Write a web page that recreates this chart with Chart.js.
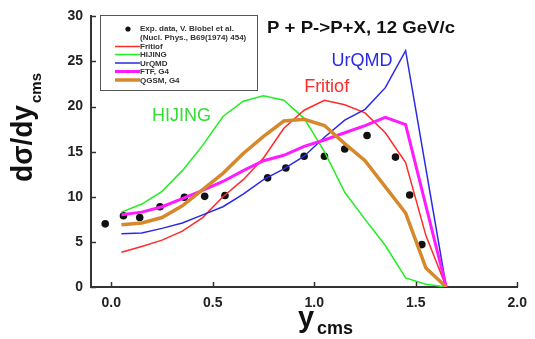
<!DOCTYPE html>
<html>
<head>
<meta charset="utf-8">
<script src="https://cdn.jsdelivr.net/npm/chart.js@4"></script>
<style>
html,body{margin:0;padding:0;background:#fff;}
#wrap{width:535px;height:339px;position:relative;}
</style>
</head>
<body>
<div id="wrap"><canvas id="c" width="535" height="339"></canvas></div>
<script>
// ---- data ----
const expX = [-0.03, 0.06, 0.14, 0.24, 0.36, 0.46, 0.56, 0.77, 0.86, 0.95, 1.05, 1.15, 1.26, 1.40, 1.47, 1.53];
const expY = [7.0, 7.9, 7.7, 8.9, 9.95, 10.05, 10.15, 12.1, 13.2, 14.5, 14.5, 15.3, 16.8, 14.4, 10.2, 4.7];

const modelX  = [0.05, 0.15, 0.25, 0.35, 0.45, 0.55, 0.65, 0.75, 0.85, 0.95, 1.05, 1.15, 1.25, 1.35, 1.45, 1.55, 1.65];
const fritiofY = [3.85, 4.5, 5.2, 6.2, 7.7, 10.0, 11.9, 14.3, 17.6, 19.6, 20.7, 20.2, 19.3, 17.1, 13.8, 5.7, 0];
const hijingY  = [8.3, 9.2, 10.6, 12.9, 15.7, 18.9, 20.6, 21.2, 20.7, 18.7, 15.0, 10.5, 7.5, 4.6, 1.0, 0.3, 0];
const urqmdY   = [5.9, 6.0, 6.5, 7.1, 8.0, 8.9, 10.3, 11.9, 13.1, 14.5, 16.6, 18.5, 19.7, 22.1, 26.2, null, 0];
const ftfY     = [8.0, 8.3, 8.9, 9.8, 10.7, 11.7, 12.9, 14.0, 14.6, 15.6, 16.3, 17.1, 17.9, 18.8, 18.0, null, 0];
const qgsmY    = [6.9, 7.1, 7.7, 9.0, 10.8, 12.6, 14.8, 16.7, 18.4, 18.6, 17.9, 15.9, 14.0, 11.1, 8.2, 2.1, 0];

const xTicks = [0.0, 0.5, 1.0, 1.5, 2.0];
const yTicks = [0, 5, 10, 15, 20, 25, 30];

const seriesNames = ["Fritiof", "HIJING", "UrQMD", "FTF, G4", "QGSM, G4"];
const expName = ["Exp. data, V. Blobel et al.", "(Nucl. Phys., B69(1974) 454)"];
const titleText = "P + P->P+X, 12 GeV/c";
const notes = [
  {text: "HIJING", x: 0.20, y: 18.4, color: "#33dd33"},
  {text: "Fritiof", x: 0.95, y: 21.6, color: "#ff2a2a"},
  {text: "UrQMD", x: 1.085, y: 24.5, color: "#2a2ae6"}
];

const pts = (xs, ys) => xs.map((x, i) => ({x: x, y: ys[i]}));

const COL = {
  fritiof: "#ff2a2a", hijing: "#22ee22", urqmd: "#2a2ae6", ftf: "#ff1aff", qgsm: "#d6882c"
};
const styles = [
  {c: COL.fritiof, w: 1.5},
  {c: COL.hijing, w: 1.5},
  {c: COL.urqmd, w: 1.5},
  {c: COL.ftf, w: 3},
  {c: COL.qgsm, w: 3.5}
];
const modelY = [fritiofY, hijingY, urqmdY, ftfY, qgsmY];
const orders = [4, 5, 3, 2, 1];

const datasets = modelY.map((ys, i) => ({
  label: seriesNames[i],
  data: pts(modelX, ys),
  borderColor: styles[i].c,
  backgroundColor: styles[i].c,
  borderWidth: styles[i].w,
  pointRadius: 0,
  tension: 0,
  spanGaps: true,
  showLine: true,
  order: orders[i]
}));
datasets.push({
  label: expName[0],
  data: pts(expX, expY),
  showLine: false,
  pointRadius: 3.8,
  pointBackgroundColor: "#111",
  pointBorderColor: "#111",
  borderWidth: 0,
  order: 10
});

const FONT = "'Liberation Sans', Arial, sans-serif";

const deco = {
  id: "deco",
  afterDraw(chart) {
    const ctx = chart.ctx;
    const xs = chart.scales.x, ys = chart.scales.y;
    const a = chart.chartArea;
    ctx.save();
    // inward tick marks
    ctx.strokeStyle = "#333";
    ctx.lineWidth = 1.5;
    xTicks.forEach(v => {
      const px = Math.round(xs.getPixelForValue(v)) + 0.5;
      ctx.beginPath(); ctx.moveTo(px, a.bottom); ctx.lineTo(px, a.bottom - 5); ctx.stroke();
    });
    yTicks.forEach(v => {
      const py = Math.round(ys.getPixelForValue(v)) + 0.5;
      ctx.beginPath(); ctx.moveTo(a.left, py); ctx.lineTo(a.left + 5, py); ctx.stroke();
    });

    // title
    ctx.fillStyle = "#111";
    ctx.font = "bold 16.5px " + FONT;
    ctx.textBaseline = "middle";
    ctx.textAlign = "left";
    const tw = ctx.measureText(titleText).width;
    ctx.save();
    ctx.translate(267, 28);
    ctx.scale(188 / tw, 1);
    ctx.fillText(titleText, 0, 0);
    ctx.restore();

    // annotations
    ctx.font = "18px " + FONT;
    ctx.textBaseline = "alphabetic";
    notes.forEach(n => {
      ctx.fillStyle = n.color;
      ctx.fillText(n.text, xs.getPixelForValue(n.x), ys.getPixelForValue(n.y));
    });

    // x title
    ctx.fillStyle = "#111";
    ctx.font = "bold 29px " + FONT;
    ctx.fillText("y", 298, 327);
    ctx.font = "bold 18px " + FONT;
    ctx.fillText("cms", 317, 334);

    // y title (rotated)
    ctx.save();
    ctx.translate(32, 182);
    ctx.rotate(-Math.PI / 2);
    ctx.font = "bold 29px " + FONT;
    const w1 = ctx.measureText("d\u03c3/dy").width;
    ctx.save();
    ctx.scale(77 / w1, 1);
    ctx.fillText("d\u03c3/dy", 0, 0);
    ctx.restore();
    ctx.font = "bold 15px " + FONT;
    ctx.fillText("cms", 79, 9);
    ctx.restore();

    // legend box
    ctx.fillStyle = "#fff";
    ctx.fillRect(100.5, 15.5, 157, 75);
    ctx.strokeStyle = "#555";
    ctx.lineWidth = 1;
    ctx.strokeRect(100.5, 15.5, 157, 75);
    ctx.fillStyle = "#111";
    ctx.beginPath(); ctx.arc(128, 29, 2.6, 0, Math.PI * 2); ctx.fill();
    ctx.font = "bold 8px " + FONT;
    ctx.fillStyle = "#333";
    ctx.textBaseline = "middle";
    ctx.fillText(expName[0], 140, 29);
    ctx.fillText(expName[1], 140, 38);
    const ly = [46.5, 54.5, 63, 71.5, 80];
    chart.data.datasets.slice(0, 5).forEach((d, i) => {
      ctx.strokeStyle = d.borderColor;
      ctx.lineWidth = d.borderWidth;
      ctx.beginPath(); ctx.moveTo(115, ly[i]); ctx.lineTo(140, ly[i]); ctx.stroke();
      ctx.fillStyle = "#333";
      ctx.fillText(d.label, 140, ly[i] + 0.5);
    });
    ctx.restore();
  }
};

new Chart(document.getElementById("c"), {
  type: "scatter",
  data: {datasets: datasets},
  options: {
    responsive: false,
    animation: false,
    layout: {padding: {left: 0, top: 16, right: 14, bottom: 0}},
    plugins: {legend: {display: false}, tooltip: {enabled: false}},
    scales: {
      x: {
        type: "linear", min: -0.1, max: 2.0,
        afterBuildTicks: s => { s.ticks = xTicks.map(v => ({value: v})); },
        afterFit: s => { s.height = 52; },
        grid: {display: false, drawTicks: false},
        border: {display: true, color: "#333", width: 2},
        ticks: {
          padding: 8, color: "#222",
          font: {family: FONT, size: 14, weight: "bold"},
          callback: v => Number(v).toFixed(1),
          maxRotation: 0, autoSkip: false
        }
      },
      y: {
        type: "linear", min: 0, max: 30,
        afterBuildTicks: s => { s.ticks = yTicks.map(v => ({value: v})); },
        afterFit: s => { s.width = 91; },
        grid: {display: false, drawTicks: false},
        border: {display: true, color: "#333", width: 2},
        ticks: {
          padding: 8, color: "#222",
          font: {family: FONT, size: 14, weight: "bold"},
          callback: v => String(v)
        }
      }
    }
  },
  plugins: [deco]
});
</script>
</body>
</html>
